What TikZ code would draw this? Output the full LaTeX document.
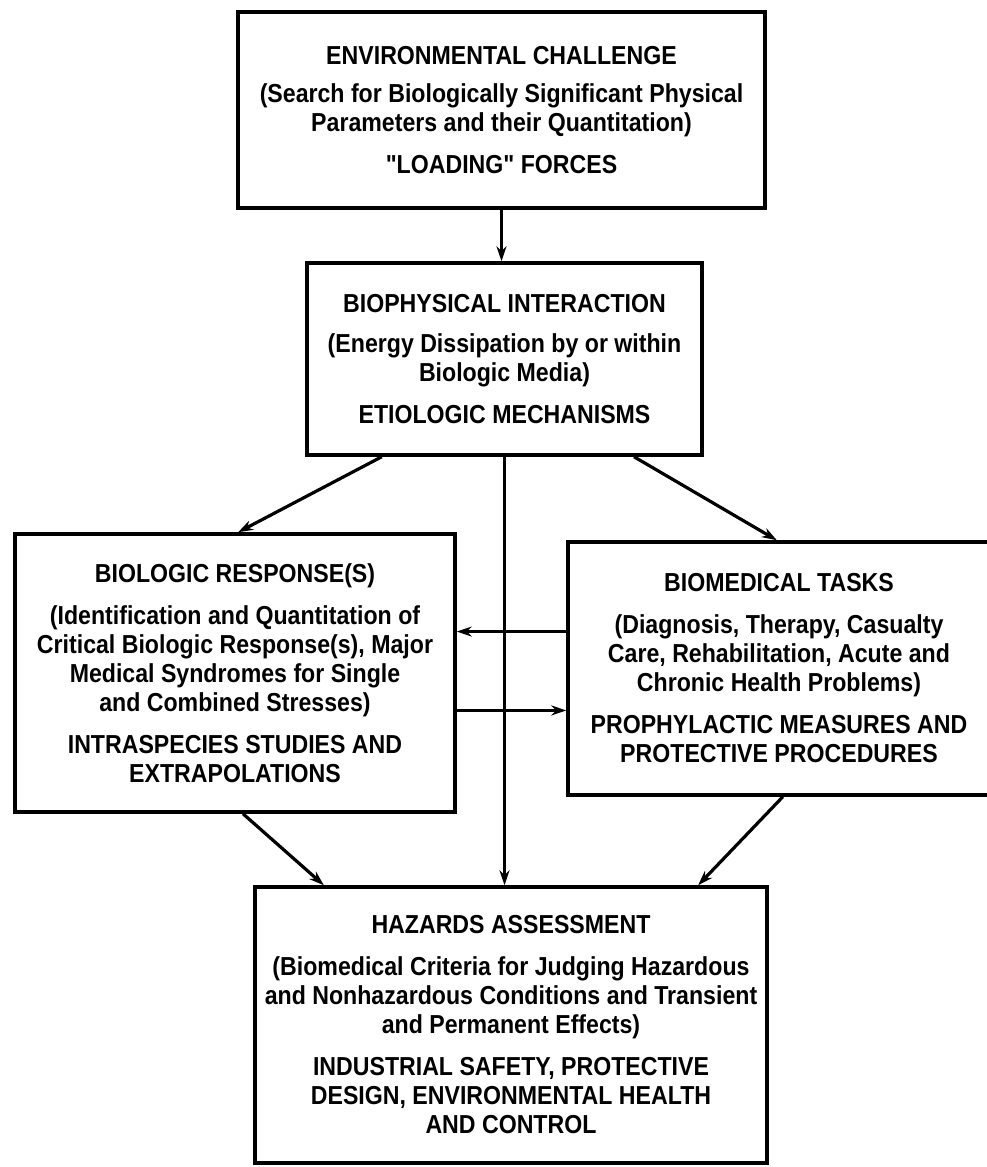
\documentclass[tikz,border=0pt]{standalone}
\usepackage{fontspec}
\newfontfamily\diag{Liberation Sans}[FakeStretch=0.89]
\usetikzlibrary{arrows.meta,calc}
\begin{document}
\begin{tikzpicture}[x=1pt,y=-1pt,
  box/.style={draw, line width=3.5pt, align=center, inner sep=0pt,
    font=\diag\bfseries\fontsize{26}{29}\selectfont},
  arr/.style={line width=3.2pt, -{Stealth[length=15pt,width=10pt]}}]
\useasboundingbox (0,0) rectangle (986,1167);
\fill[white] (0,0) rectangle (986,1167);

\node[box, minimum width=527pt, minimum height=196pt] (b1) at (501.5,110)
 {ENVIRONMENTAL CHALLENGE\\[9pt]
  (Search for Biologically Significant Physical\\
  Parameters and their Quantitation)\\[13pt]
  "LOADING" FORCES};

\node[box, minimum width=395pt, minimum height=192pt] (b2) at (504.5,359)
 {BIOPHYSICAL INTERACTION\\[11pt]
  (Energy Dissipation by or within\\
  Biologic Media)\\[13pt]
  ETIOLOGIC MECHANISMS};

\node[box, minimum width=440pt, minimum height=278pt] (b3) at (235,673)
 {BIOLOGIC RESPONSE(S)\\[13pt]
  (Identification and Quantitation of\\
  Critical Biologic Response(s), Major\\
  Medical Syndromes for Single\\
  and Combined Stresses)\\[13pt]
  INTRASPECIES STUDIES AND\\
  EXTRAPOLATIONS};

\node[box, minimum width=422pt, minimum height=253pt] (b4) at (779,668.5)
 {BIOMEDICAL TASKS\\[13pt]
  (Diagnosis, Therapy, Casualty\\
  Care, Rehabilitation, Acute and\\
  Chronic Health Problems)\\[13pt]
  PROPHYLACTIC MEASURES AND\\
  PROTECTIVE PROCEDURES};

\node[box, minimum width=512pt, minimum height=276pt] (b5) at (511,1025)
 {HAZARDS ASSESSMENT\\[13pt]
  (Biomedical Criteria for Judging Hazardous\\
  and Nonhazardous Conditions and Transient\\
  and Permanent Effects)\\[13pt]
  INDUSTRIAL SAFETY, PROTECTIVE\\
  DESIGN, ENVIRONMENTAL HEALTH\\
  AND CONTROL};

% connectors
\draw[arr] (b1.south) -- (b1.south |- b2.north);
\draw[arr] ($(b2.south west)!0.192!(b2.south east)$) -- ($(b3.north west)!0.507!(b3.north east)$);
\draw[arr] ($(b2.south west)!0.825!(b2.south east)$) -- ($(b4.north west)!0.495!(b4.north east)$);
\draw[arr] (b2.south) -- (b2.south |- b5.north);
\coordinate (h1) at ($(b4.north west)!0.356!(b4.south west)$);
\coordinate (h2) at ($(b3.north east)!0.633!(b3.south east)$);
\draw[arr] (h1) -- (h1 -| b3.east);
\draw[arr] (h2) -- (h2 -| b4.west);
\draw[arr] ($(b3.south west)!0.518!(b3.south east)$) -- ($(b5.north west)!0.137!(b5.north east)$);
\draw[arr] ($(b4.south west)!0.509!(b4.south east)$) -- ($(b5.north west)!0.863!(b5.north east)$);
\end{tikzpicture}
\end{document}
